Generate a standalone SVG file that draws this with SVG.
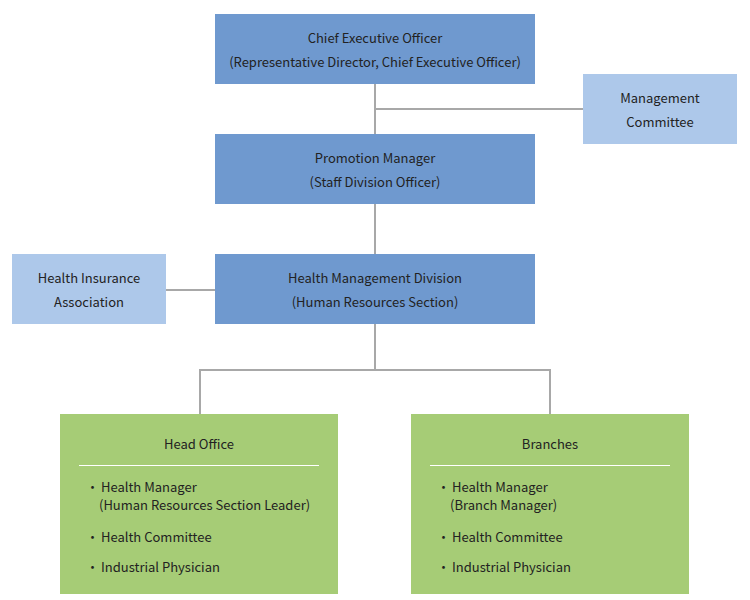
<svg xmlns="http://www.w3.org/2000/svg" width="750" height="600" viewBox="0 0 750 600">
<style>
text{font-family:"Noto Sans CJK JP","Noto Sans",sans-serif;font-size:13px;fill:#222}
.c{text-anchor:middle}
.dark{fill:#6f99cf}
.light{fill:#adc8ea}
.green{fill:#a6cc76}
.conn{stroke:#a8a8a8;stroke-width:2;fill:none}
</style>
<rect width="750" height="600" fill="#fff"/>
<g id="connectors">
<path class="conn" d="M375 84V134M375 109H583M375 204V254M166 290H215M375 324V370M200 414V370H550V414"/>
</g>
<g id="ceo"><rect class="dark" x="215" y="14" width="320" height="70"/>
<text class="c" x="375" y="43">Chief Executive Officer</text>
<text class="c" x="375" y="67">(Representative Director, Chief Executive Officer)</text></g>
<g id="mgmt"><rect class="light" x="583" y="74" width="154" height="70"/>
<text class="c" x="660" y="103">Management</text>
<text class="c" x="660" y="127">Committee</text></g>
<g id="promo"><rect class="dark" x="215" y="134" width="320" height="70"/>
<text class="c" x="375" y="163">Promotion Manager</text>
<text class="c" x="375" y="187">(Staff Division Officer)</text></g>
<g id="hmd"><rect class="dark" x="215" y="254" width="320" height="70"/>
<text class="c" x="375" y="283">Health Management Division</text>
<text class="c" x="375" y="307">(Human Resources Section)</text></g>
<g id="hia"><rect class="light" x="12" y="254" width="154" height="70"/>
<text class="c" x="89" y="283">Health Insurance</text>
<text class="c" x="89" y="307">Association</text></g>
<g id="head"><rect class="green" x="60" y="414" width="278" height="180"/>
<text class="c" x="199" y="449">Head Office</text>
<line x1="79" y1="465.5" x2="319" y2="465.5" stroke="#fff"/>
<text x="86" y="492">・</text><text x="101" y="492">Health Manager</text>
<text x="99" y="510">(Human Resources Section Leader)</text>
<text x="86" y="542">・</text><text x="101" y="542">Health Committee</text>
<text x="86" y="572">・</text><text x="101" y="572">Industrial Physician</text></g>
<g id="branches"><rect class="green" x="411" y="414" width="278" height="180"/>
<text class="c" x="550" y="449">Branches</text>
<line x1="430" y1="465.5" x2="670" y2="465.5" stroke="#fff"/>
<text x="437" y="492">・</text><text x="452" y="492">Health Manager</text>
<text x="450" y="510">(Branch Manager)</text>
<text x="437" y="542">・</text><text x="452" y="542">Health Committee</text>
<text x="437" y="572">・</text><text x="452" y="572">Industrial Physician</text></g>
</svg>
